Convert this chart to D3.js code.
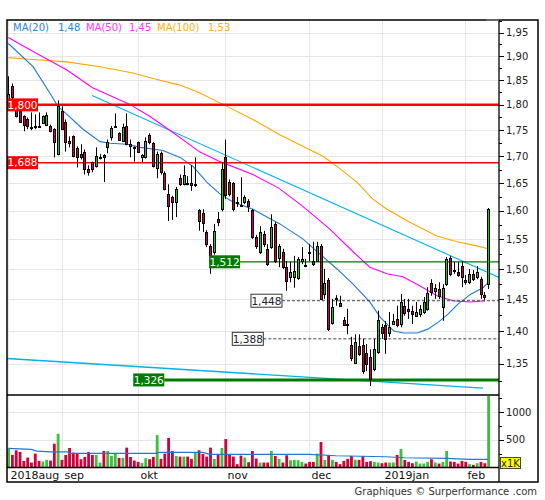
<!DOCTYPE html>
<html><head><meta charset="utf-8">
<script src="https://cdn.jsdelivr.net/npm/d3@7"></script>
<style>html,body{margin:0;padding:0;background:#fff}svg{display:block}text{font-family:"DejaVu Sans",Verdana,sans-serif}</style>
</head><body><svg id="c" width="545" height="500"></svg>
<script>
// ---------- DATA ----------
const opens = [1.811,1.839,1.795,1.787,1.777,1.771,1.756,1.758,1.758,1.765,
1.761,1.758,1.752,1.704,1.787,1.767,1.730,1.738,1.715,1.704,
1.709,1.676,1.689,1.681,1.696,1.702,1.717,1.736,1.758,1.744,
1.730,1.759,1.723,1.717,1.727,1.698,1.698,1.740,1.725,1.678,
1.707,1.668,1.630,1.625,1.616,1.659,1.648,1.650,1.650,1.646,
1.601,1.596,1.563,1.539,1.529,1.585,1.603,1.698,1.652,1.650,
1.616,1.610,1.616,1.618,1.601,1.554,1.529,1.559,1.534,1.537,
1.577,1.518,1.529,1.503,1.487,1.487,1.485,1.513,1.507,1.529,
1.513,1.513,1.539,1.459,1.482,1.413,1.452,1.445,1.418,1.411,
1.379,1.351,1.377,1.379,1.366,1.360,1.342,1.368,1.406,1.410,
1.397,1.411,1.419,1.411,1.440,1.434,1.432,1.424,1.427,1.430,
1.435,1.477,1.464,1.467,1.438,1.475,1.518,1.498,1.495,1.505,
1.482,1.479,1.492,1.487,1.483,1.457,1.475];
const highs = [1.858,1.843,1.803,1.791,1.779,1.775,1.785,1.781,1.785,1.779,
1.785,1.761,1.754,1.809,1.797,1.771,1.738,1.740,1.719,1.723,
1.713,1.683,1.690,1.717,1.704,1.704,1.732,1.758,1.783,1.746,
1.763,1.783,1.732,1.719,1.728,1.704,1.736,1.744,1.727,1.709,
1.709,1.672,1.648,1.627,1.643,1.666,1.683,1.663,1.683,1.698,
1.603,1.603,1.566,1.542,1.577,1.598,1.689,1.732,1.657,1.652,
1.625,1.661,1.628,1.621,1.603,1.558,1.573,1.565,1.542,1.594,
1.580,1.542,1.534,1.513,1.512,1.522,1.520,1.537,1.517,1.542,
1.546,1.546,1.542,1.500,1.485,1.451,1.457,1.456,1.422,1.435,
1.391,1.395,1.395,1.388,1.380,1.372,1.388,1.432,1.411,1.416,
1.430,1.427,1.440,1.459,1.451,1.451,1.440,1.446,1.441,1.454,
1.470,1.483,1.475,1.478,1.475,1.520,1.522,1.512,1.512,1.513,
1.490,1.500,1.498,1.505,1.487,1.462,1.605];
const lows = [1.803,1.809,1.775,1.765,1.748,1.752,1.750,1.752,1.756,1.763,
1.758,1.746,1.698,1.702,1.750,1.709,1.717,1.698,1.679,1.694,
1.666,1.664,1.670,1.679,1.694,1.652,1.706,1.730,1.756,1.730,
1.727,1.721,1.698,1.690,1.707,1.689,1.696,1.723,1.679,1.659,
1.666,1.637,1.582,1.584,1.589,1.645,1.646,1.646,1.636,1.643,
1.565,1.563,1.537,1.492,1.524,1.573,1.599,1.621,1.626,1.599,
1.607,1.607,1.612,1.598,1.551,1.534,1.525,1.537,1.505,1.534,
1.510,1.503,1.500,1.464,1.478,1.469,1.482,1.508,1.503,1.513,
1.505,1.512,1.449,1.451,1.400,1.410,1.440,1.438,1.408,1.395,
1.354,1.350,1.362,1.335,1.339,1.317,1.339,1.365,1.388,1.365,
1.391,1.410,1.406,1.406,1.424,1.419,1.411,1.422,1.422,1.427,
1.432,1.456,1.451,1.451,1.416,1.472,1.488,1.492,1.487,1.470,
1.474,1.475,1.480,1.483,1.451,1.449,1.467];
const closes = [1.821,1.815,1.777,1.767,1.761,1.759,1.754,1.757,1.757,1.777,
1.779,1.748,1.728,1.797,1.752,1.728,1.725,1.700,1.698,1.698,
1.676,1.670,1.676,1.700,1.699,1.698,1.728,1.754,1.759,1.732,
1.756,1.723,1.719,1.715,1.709,1.702,1.730,1.728,1.681,1.704,
1.670,1.639,1.608,1.616,1.639,1.648,1.666,1.648,1.646,1.648,
1.582,1.578,1.542,1.524,1.565,1.580,1.676,1.628,1.630,1.603,
1.614,1.608,1.625,1.608,1.554,1.539,1.563,1.542,1.508,1.572,
1.513,1.539,1.503,1.480,1.495,1.497,1.517,1.517,1.505,1.527,
1.508,1.539,1.451,1.477,1.403,1.438,1.451,1.440,1.410,1.4105,
1.359,1.383,1.365,1.339,1.350,1.328,1.372,1.418,1.397,1.388,
1.406,1.416,1.410,1.446,1.429,1.432,1.427,1.430,1.435,1.446,
1.461,1.462,1.469,1.456,1.469,1.517,1.492,1.497,1.490,1.487,
1.479,1.492,1.483,1.495,1.459,1.454,1.603];
const volumes = [339,226,309,280,119,179,89,250,119,107,
137,125,428,607,137,226,351,268,262,149,
190,280,226,226,89,298,298,208,262,173,
173,357,190,125,101,83,167,149,190,583,
155,250,530,298,208,196,196,196,155,268,
309,244,196,357,155,238,351,512,238,196,
60,214,179,95,298,161,89,89,89,298,
208,155,89,220,131,137,131,101,71,101,
101,250,458,137,226,137,101,60,119,155,
208,137,137,208,101,113,101,89,77,89,
89,89,226,333,137,101,77,107,71,71,
101,149,89,71,101,298,107,101,71,119,
101,60,48,77,101,77,1350];
// moving averages: [day index, value]
const ma20 = [[0,1.927],[6.5,1.878],[10.9,1.824],[13,1.797],[15.4,1.781],[19.6,1.752],[24.1,1.728],[26.7,1.725],[31.2,1.723],[34.6,1.717],[40.6,1.711],[45.1,1.698],[48.5,1.681],[52.1,1.652],[55.6,1.630],[59,1.616],[64.2,1.603],[67.9,1.589],[71.3,1.577],[77.3,1.551],[81.8,1.525],[86.3,1.500],[90.5,1.475],[94.9,1.446],[97.6,1.422],[101.2,1.400],[103.8,1.397],[107.4,1.397],[110.1,1.403],[112.9,1.414],[115.5,1.427],[118.1,1.443],[121.5,1.459],[124.6,1.469],[125.9,1.477]];
const ma50 = [[0,1.940],[6.5,1.910],[15.4,1.871],[22,1.835],[31.9,1.801],[37.2,1.777],[42.4,1.750],[50.3,1.708],[55.6,1.690],[64.2,1.666],[71,1.641],[77.3,1.608],[84.4,1.568],[90.5,1.529],[94.9,1.503],[99.4,1.492],[103.6,1.487],[108.1,1.472],[112.5,1.456],[116.7,1.448],[121.2,1.446],[125.1,1.448]];
const ma100 = [[0,1.897],[6.5,1.893],[15.4,1.888],[24.1,1.878],[32.7,1.865],[39.8,1.850],[45.1,1.840],[50.3,1.824],[57.4,1.797],[64.2,1.771],[71,1.742],[77.3,1.719],[82.6,1.700],[86.3,1.681],[91.5,1.652],[95.7,1.621],[99.4,1.603],[105.4,1.580],[112.5,1.556],[117.8,1.546],[123,1.539],[125.9,1.534]];
const volMA = [[0,343],[6,325],[7.5,295],[11,282],[15.5,282],[16,254],[39,254],[39.5,271],[51,271],[53,236],[79,236],[86,211],[99,193],[104,175],[115,164],[121,146],[126,146]];
const trendUpper = [[22,1.819],[128.8,1.486]];
const trendLower = [[-0.34,1.358],[124.6,1.314]];
const levels = [1.800,1.688,1.512,1.448,1.388,1.326];
const levelLabels = ["1,800","1,688","1,512","1,448","1,388","1,326"];
const levelStart = [-0.34,-0.34,52.7,63.7,58.8,32.8];
const months = ["2018aug","sep","okt","nov","dec","2019jan","feb"];
const monthIdx = [0,14,34,57,79,98,120];
const priceTicks = [1.35,1.40,1.45,1.50,1.55,1.60,1.65,1.70,1.75,1.80,1.85,1.90,1.95];
const priceMinor = [1.325,1.375,1.425,1.475,1.525,1.575,1.625,1.675,1.725,1.775,1.825,1.875,1.925,1.975];
const volTicks = [500,1000];
const volMinor = [250,750,1250];
const legendNames = ["MA(20)","MA(50)","MA(100)"];
const legendValues = ["1,48","1,45","1,53"];

// ---------- LAYOUT ----------
const N = closes.length;
const L = 7, R = 499, T = 20, PB = 395, VB = 467.5, B = 482, RR = 538;
const svg = d3.select("#c");
const x = d3.scaleLinear().domain([0, N - 1]).range([8.3, 488.3]);
const y = d3.scaleLog().domain([1.304, 1.978]).range([PB, T]);
const yv = d3.scaleLinear().domain([0, 1304]).range([VB, PB]);
const fmt = v => d3.format(".2f")(v).replace(".", ",");

const defs = svg.append("defs");
defs.append("clipPath").attr("id", "cp").append("rect").attr("x", L).attr("y", T).attr("width", R - L).attr("height", PB - T);
defs.append("clipPath").attr("id", "cv").append("rect").attr("x", L).attr("y", PB + 1).attr("width", R - L).attr("height", VB - PB - 1);

const GRID = "#e6e6e6";
// grid
const g = svg.append("g");
g.selectAll("line.hp").data(priceTicks).join("line")
  .attr("x1", L).attr("x2", R).attr("y1", d => Math.round(y(d)) + 0.5).attr("y2", d => Math.round(y(d)) + 0.5)
  .attr("stroke", GRID);
g.selectAll("line.hv").data(volTicks).join("line")
  .attr("x1", L).attr("x2", R).attr("y1", d => Math.round(yv(d)) + 0.5).attr("y2", d => Math.round(yv(d)) + 0.5)
  .attr("stroke", GRID);
g.selectAll("line.vm").data(monthIdx).join("line")
  .attr("x1", d => Math.round(x(d)) + 0.5).attr("x2", d => Math.round(x(d)) + 0.5)
  .attr("y1", T).attr("y2", VB).attr("stroke", GRID);

// price panel content
const pp = svg.append("g").attr("clip-path", "url(#cp)");
const line = d3.line().x(d => x(d[0])).y(d => y(d[1]));
pp.append("path").attr("d", line(trendLower)).attr("fill", "none").attr("stroke", "#00b0f0").attr("stroke-width", 1.3);
pp.append("path").attr("d", line(trendUpper)).attr("fill", "none").attr("stroke", "#00b0f0").attr("stroke-width", 1.1);
pp.append("path").attr("d", line(ma100)).attr("fill", "none").attr("stroke", "#ffa500").attr("stroke-width", 1.1);
pp.append("path").attr("d", line(ma50)).attr("fill", "none").attr("stroke", "#ff00ff").attr("stroke-width", 1.1);
pp.append("path").attr("d", line(ma20)).attr("fill", "none").attr("stroke", "#1f78d4").attr("stroke-width", 1.1);

// level lines
const levelStyle = [
  {c:"#ff0000", w:2.5, box:"#ff0000", txt:"#fff"},
  {c:"#ff0000", w:1.6, box:"#ff0000", txt:"#fff"},
  {c:"#007a00", w:1.2, box:"#007a00", txt:"#fff"},
  {c:"#444", w:1, box:"#fff", txt:"#223", dash:"3,2", stroke:"#333"},
  {c:"#444", w:1, box:"#fff", txt:"#223", dash:"3,2", stroke:"#333"},
  {c:"#007a00", w:3, box:"#007a00", txt:"#fff"}
];
const BW = 31, BH = 13;
levels.forEach((lv, i) => {
  const st = levelStyle[i];
  const bx = Math.max(L, x(levelStart[i]));
  const ly = y(lv);
  pp.append("line").attr("x1", bx + BW).attr("x2", R).attr("y1", ly).attr("y2", ly)
    .attr("stroke", st.c).attr("stroke-width", st.w).attr("stroke-dasharray", st.dash || null);
});

// candles
const cg = pp.append("g");
d3.range(N).forEach(i => {
  const c = Math.round(x(i));
  const up = closes[i] >= opens[i];
  cg.append("line").attr("x1", c + 0.5).attr("x2", c + 0.5)
    .attr("y1", y(highs[i])).attr("y2", y(lows[i])).attr("stroke", "#000").attr("stroke-width", 1);
  const yt = Math.round(y(Math.max(opens[i], closes[i])));
  const yb = Math.round(y(Math.min(opens[i], closes[i])));
  cg.append("rect").attr("x", c - 0.5).attr("y", yt + 0.5).attr("width", 2).attr("height", Math.max(yb - yt, 1))
    .attr("fill", up ? "#33b533" : "#d2003a").attr("stroke", "#000").attr("stroke-width", 1);
});

// level label boxes (drawn above)
levels.forEach((lv, i) => {
  const st = levelStyle[i];
  const bx = Math.max(L, x(levelStart[i]));
  const ly = y(lv);
  svg.append("rect").attr("x", bx).attr("y", ly - BH / 2).attr("width", BW).attr("height", BH)
    .attr("fill", st.box).attr("stroke", st.stroke || "none").attr("stroke-width", 1);
  svg.append("text").attr("x", bx + BW / 2).attr("y", ly).attr("dy", "0.36em").attr("text-anchor", "middle")
    .attr("font-size", 10.5).attr("fill", st.txt).text(levelLabels[i]);
});

// volume
const vp = svg.append("g").attr("clip-path", "url(#cv)");
vp.selectAll("rect").data(volumes).join("rect")
  .attr("x", (d, i) => x(i) - 1.1).attr("width", 2.8)
  .attr("y", d => yv(d)).attr("height", d => VB - yv(d))
  .attr("fill", (d, i) => closes[i] >= opens[i] ? "#3cbf3c" : "#d2003a");
vp.append("path").attr("d", d3.line().x(d => x(d[0])).y(d => yv(d[1]))(volMA))
  .attr("fill", "none").attr("stroke", "#1f78d4").attr("stroke-width", 1.2);

// frame and separators
svg.append("rect").attr("x", L).attr("y", T).attr("width", RR - L).attr("height", B - T)
  .attr("fill", "none").attr("stroke", "#000").attr("stroke-width", 1.5);
svg.append("line").attr("x1", R).attr("x2", R).attr("y1", T).attr("y2", B).attr("stroke", "#000").attr("stroke-width", 1.3);
svg.append("line").attr("x1", L).attr("x2", R).attr("y1", PB).attr("y2", PB).attr("stroke", "#000").attr("stroke-width", 1.3);
svg.append("line").attr("x1", L).attr("x2", R).attr("y1", VB).attr("y2", VB).attr("stroke", "#000").attr("stroke-width", 1.3);
svg.append("rect").attr("x", 486).attr("y", T - 1).attr("width", 13).attr("height", 2).attr("fill", "#666");

// right price axis
const ax = svg.append("g");
ax.selectAll("line.mj").data(priceTicks).join("line")
  .attr("x1", R).attr("x2", R + 5).attr("y1", d => Math.round(y(d)) + 0.5).attr("y2", d => Math.round(y(d)) + 0.5).attr("stroke", "#000");
ax.selectAll("line.mn").data(priceMinor.filter(v => y(v) > T && y(v) < PB)).join("line")
  .attr("x1", R).attr("x2", R + 3).attr("y1", d => Math.round(y(d)) + 0.5).attr("y2", d => Math.round(y(d)) + 0.5).attr("stroke", "#000");
ax.selectAll("text").data(priceTicks).join("text")
  .attr("x", 506).attr("y", d => y(d)).attr("dy", "0.36em").attr("font-size", 10).attr("fill", "#222").text(fmt);
// volume axis
const av = svg.append("g");
av.selectAll("line.mj").data(volTicks).join("line")
  .attr("x1", R).attr("x2", R + 5).attr("y1", d => Math.round(yv(d)) + 0.5).attr("y2", d => Math.round(yv(d)) + 0.5).attr("stroke", "#000");
av.selectAll("line.mn").data(volMinor).join("line")
  .attr("x1", R).attr("x2", R + 3).attr("y1", d => Math.round(yv(d)) + 0.5).attr("y2", d => Math.round(yv(d)) + 0.5).attr("stroke", "#000");
av.selectAll("text").data(volTicks).join("text")
  .attr("x", 506).attr("y", d => yv(d)).attr("dy", "0.36em").attr("font-size", 10).attr("fill", "#222").text(d => d);
svg.append("rect").attr("x", 500.5).attr("y", 457.5).attr("width", 20).attr("height", 11).attr("fill", "#ffff00").attr("stroke", "#444");
svg.append("text").attr("x", 510.5).attr("y", 463).attr("dy", "0.36em").attr("text-anchor", "middle").attr("font-size", 10).attr("fill", "#222").text("x1K");

// month labels
svg.selectAll("text.m").data(months).join("text")
  .attr("x", (d, i) => Math.round(x(monthIdx[i])) + 2.5).attr("y", 478.5)
  .attr("font-size", 11).attr("fill", "#111").text(d => d);

// legend
const legendColors = ["#2a86dc", "#ff33ff", "#ffaa22"];
const legendX = [13, 86, 157];
const legendValX = [58, 129, 208];
legendNames.forEach((n, i) => {
  svg.append("text").attr("x", legendX[i]).attr("y", 30.5).attr("font-size", 10).attr("fill", legendColors[i]).text(n);
  svg.append("text").attr("x", legendValX[i]).attr("y", 30.5).attr("font-size", 10).attr("fill", legendColors[i]).text(legendValues[i]);
});

// credit
svg.append("text").attr("x", 537).attr("y", 494.5).attr("text-anchor", "end").attr("font-size", 10).attr("fill", "#333")
  .text("Graphiques © Surperformance .com");
</script></body></html>
